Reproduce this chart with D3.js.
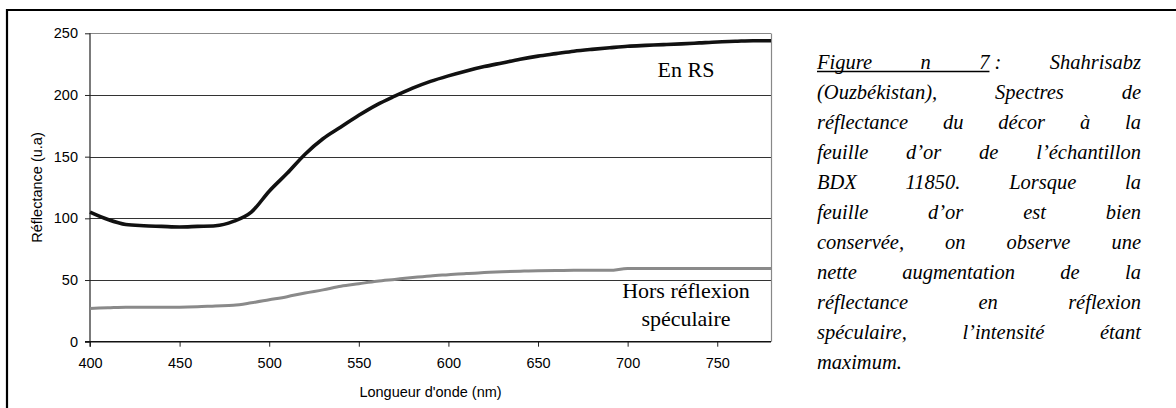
<!DOCTYPE html>
<html>
<head>
<meta charset="utf-8">
<script src="https://cdn.jsdelivr.net/npm/d3@7"></script>
<style>
  body { margin: 0; background: #fff; }
  svg { display: block; }
</style>
</head>
<body>
<svg id="chart" width="1176" height="408"></svg>
<script>
// wavelengths (nm) and reflectance readings
const wavelength = [400, 410, 420, 430, 440, 450, 460, 470, 480, 490, 500, 510, 520, 530, 540, 550, 560, 570, 580, 590,
                    600, 610, 620, 630, 640, 650, 660, 670, 680, 690, 700, 710, 720, 730, 740, 750, 760, 770, 780]
const enRS = [105, 99, 95, 94, 93.5, 93, 93.5, 94, 97.5, 105, 122, 136.5, 152, 164.5, 174, 183.5, 192, 199, 205.5, 211,
              215.5, 219.5, 223, 226, 229, 231.5, 233.5, 235.5, 237, 238.3, 239.5, 240.2, 240.8, 241.4, 242.2, 243, 243.5, 244, 244]
const horsRS = [27, 27.5, 28, 28, 28, 28, 28.3, 29, 29.5, 31.5, 34, 36.5, 39.5, 42, 45, 47, 49, 50.5, 52, 53.3,
                54.3, 55.3, 56, 56.7, 57.2, 57.6, 57.7, 57.9, 57.9, 57.9, 59.3, 59.3, 59.3, 59.3, 59.3, 59.3, 59.3, 59.3, 59.3]
const yTicks = [0, 50, 100, 150, 200, 250]
const xTicks = [400, 450, 500, 550, 600, 650, 700, 750]

const captionLines = [
  ["Figure", "n", "7 :", "Shahrisabz"],
  ["(Ouzbékistan),", "Spectres", "de"],
  ["réflectance", "du", "décor", "à", "la"],
  ["feuille", "d’or", "de", "l’échantillon"],
  ["BDX", "11850.", "Lorsque", "la"],
  ["feuille", "d’or", "est", "bien"],
  ["conservée,", "on", "observe", "une"],
  ["nette", "augmentation", "de", "la"],
  ["réflectance", "en", "réflexion"],
  ["spéculaire,", "l’intensité", "étant"],
  ["maximum."]
]

let svg = d3.select("#chart")

// outer frame
svg.append("path")
    .attr("d", "M7,408 L7,10 L1176,10")
    .style("fill", "none").style("stroke", "#000").style("stroke-width", 2.2)

let plotLeft = 90, plotRight = 771, plotTop = 33.3, plotBottom = 341.7

let x = d3.scaleLinear().domain([400, 780]).range([plotLeft, plotRight])
let y = d3.scaleLinear().domain([0, 250]).range([plotBottom, plotTop])

// grid lines
svg.append("g").selectAll("line").data(yTicks.filter(d => d > 0)).enter().append("line")
    .attr("x1", plotLeft).attr("x2", plotRight)
    .attr("y1", d => Math.round(y(d)) + 0.5).attr("y2", d => Math.round(y(d)) + 0.5)
    .style("stroke", d => d == 250 ? "#888" : "#333").style("stroke-width", 1.2)

// right border of plot area
svg.append("line")
    .attr("x1", plotRight + 0.5).attr("x2", plotRight + 0.5).attr("y1", Math.round(plotTop) + 0.5).attr("y2", plotBottom)
    .style("stroke", "#888").style("stroke-width", 1.2)

let yAxis = svg.append("g").attr("class", "yaxis")
    .attr("transform", "translate(" + plotLeft + ",0)")
    .call(d3.axisLeft(y).tickValues(yTicks).tickSize(5).tickPadding(7))
let xAxis = svg.append("g").attr("class", "xaxis")
    .attr("transform", "translate(0," + plotBottom + ")")
    .call(d3.axisBottom(x).tickValues(xTicks).tickSize(5).tickPadding(11))

svg.selectAll(".yaxis .domain, .xaxis .domain").remove()
svg.append("line").attr("x1", plotLeft).attr("x2", plotLeft).attr("y1", plotTop).attr("y2", plotBottom + 5)
    .style("stroke", "#222").style("stroke-width", 1.2)
svg.append("line").attr("x1", plotLeft - 5).attr("x2", plotRight).attr("y1", plotBottom).attr("y2", plotBottom)
    .style("stroke", "#111").style("stroke-width", 1.4)

svg.selectAll(".yaxis text, .xaxis text")
    .style("font-family", "Arial, 'Liberation Sans', sans-serif").style("font-size", "14.5px").style("fill", "#000")
svg.selectAll(".tick line").style("stroke", "#222")

// axis titles
svg.append("text")
    .attr("transform", "translate(42," + ((plotTop + plotBottom) / 2) + ")rotate(-90)")
    .style("text-anchor", "middle")
    .style("font-family", "Arial, 'Liberation Sans', sans-serif").style("font-size", "14.5px")
    .text("Réflectance (u.a)")
svg.append("text")
    .attr("x", (plotLeft + plotRight) / 2).attr("y", 397)
    .style("text-anchor", "middle")
    .style("font-family", "Arial, 'Liberation Sans', sans-serif").style("font-size", "14.5px")
    .text("Longueur d'onde (nm)")

// curves
let line = series => d3.line()
    .x((d, i) => x(wavelength[i]))
    .y(d => y(d))
    .curve(d3.curveMonotoneX)(series)

svg.append("path").attr("d", line(horsRS))
    .style("fill", "none").style("stroke", "#8a8a8a").style("stroke-width", 3)
svg.append("path").attr("d", line(enRS))
    .style("fill", "none").style("stroke", "#111").style("stroke-width", 3.6)

// curve labels
let serif = "'Liberation Serif', 'Times New Roman', serif"
svg.append("text").attr("x", 686).attr("y", 77)
    .style("text-anchor", "middle").style("font-family", serif).style("font-size", "22px")
    .text("En RS")
svg.append("text").attr("x", 686).attr("y", 298)
    .style("text-anchor", "middle").style("font-family", serif).style("font-size", "22px")
    .text("Hors réflexion")
svg.append("text").attr("x", 686).attr("y", 326)
    .style("text-anchor", "middle").style("font-family", serif).style("font-size", "22px")
    .text("spéculaire")

// justified caption
let capLeft = 817, capRight = 1141, capTop = 68.5, capStep = 30
let caption = svg.append("g")
    .style("font-family", serif).style("font-size", "20.5px").style("font-style", "italic")

captionLines.forEach((words, li) => {
    let yy = capTop + li * capStep
    let nodes = words.map(w => caption.append("text").attr("y", yy).text(w))
    let widths = nodes.map(n => n.node().getComputedTextLength())
    let total = d3.sum(widths)
    let last = li == captionLines.length - 1
    let gap = (!last && words.length > 1) ? (capRight - capLeft - total) / (words.length - 1) : 5
    let xx = capLeft
    nodes.forEach((n, i) => {
        n.attr("x", xx)
        xx += widths[i] + gap
    })
    if (li == 0) {
        // underline "Figure n 7"
        let probe = caption.append("text").text("7")
        let w7 = probe.node().getComputedTextLength()
        probe.remove()
        let x7 = +nodes[2].attr("x")
        caption.append("line")
            .attr("x1", capLeft).attr("x2", x7 + w7)
            .attr("y1", yy + 3).attr("y2", yy + 3)
            .style("stroke", "#000").style("stroke-width", 1.3)
    }
})
</script>
</body>
</html>
